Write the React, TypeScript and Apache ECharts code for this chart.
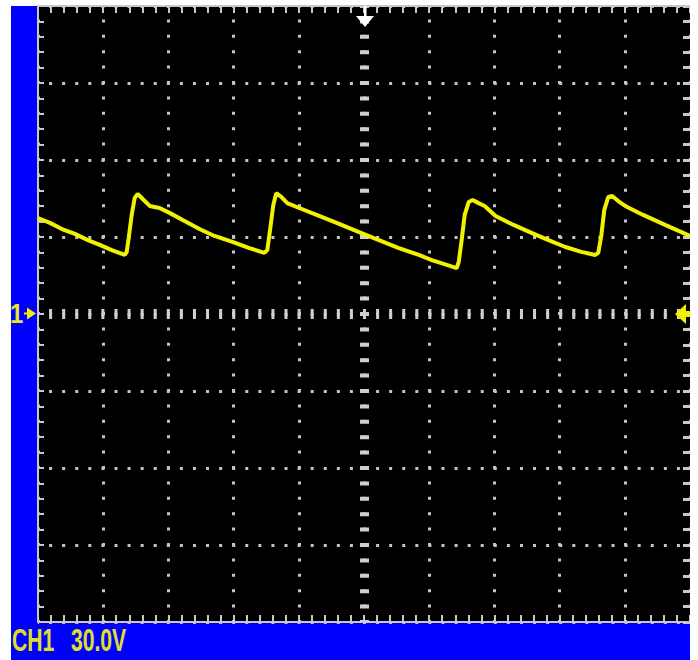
import React, { useEffect, useRef } from 'react';
import * as echarts from 'echarts';

// Horizontal position in screen divisions (0..10), CH1 voltage in volts (30 V/div)
const traceTime = [
  0.0, 0.183, 0.367, 0.566, 0.765, 0.948, 1.131, 1.33,
  1.361, 1.391, 1.437, 1.483, 1.529,
  1.606, 1.713, 1.865, 2.018, 2.248, 2.477, 2.706, 2.982, 3.242, 3.471,
  3.517, 3.563, 3.609, 3.654,
  3.731, 3.823, 4.006, 4.312, 4.618, 4.924, 5.229, 5.535, 5.841, 6.04, 6.223, 6.422,
  6.453, 6.498, 6.544, 6.606, 6.667,
  6.758, 6.85, 7.018, 7.294, 7.569, 7.829, 8.089, 8.333, 8.547,
  8.593, 8.639, 8.685, 8.746, 8.807,
  8.899, 9.006, 9.281, 9.618, 10.0,
];
const traceVolt = [
  37.4, 35.5, 33.1, 31.2, 28.8, 26.9, 24.9, 23.0,
  24.2, 29.6, 38.6, 45.2, 46.8,
  44.8, 42.1, 41.3, 39.4, 36.2, 33.1, 30.4, 28.1, 25.7, 23.8,
  24.9, 33.5, 42.5, 47.1,
  45.6, 43.2, 41.3, 38.2, 35.1, 31.9, 28.8, 25.7, 23.0, 21.0, 19.5, 17.9,
  20.3, 28.8, 38.6, 43.6, 44.4,
  43.2, 42.1, 38.2, 34.7, 31.6, 28.8, 26.1, 24.2, 23.0,
  23.8, 30.4, 40.5, 45.6, 46.0,
  44.0, 42.1, 38.6, 34.7, 30.4,
];

const timeRange = [0, 10];
const timeStep = 1;
const voltRange = [-120, 120];
const voltStep = 30;
const triggerTime = 5;
const groundVolt = 0;

const channelLabel = 'CH1';
const scaleLabel = '30.0V';
const channelMarker = '1';

export default function App() {
  const ref = useRef<HTMLDivElement>(null);

  useEffect(() => {
    if (!ref.current) return;
    const chart = echarts.init(ref.current, null, { renderer: 'svg' });
    const data = traceTime.map((t, i) => [t, traceVolt[i]]);
    const edge = { color: '#c8c8c8', width: 2 };

    const xBase = {
      type: 'value',
      min: timeRange[0],
      max: timeRange[1],
      interval: timeStep,
      axisLine: { show: true, onZero: false, lineStyle: edge },
      axisTick: { show: true, inside: true, length: 7, lineStyle: edge },
      minorTick: { show: true, splitNumber: 5, length: 7, lineStyle: edge },
      axisLabel: { show: false },
    };
    const yBase = {
      type: 'value',
      min: voltRange[0],
      max: voltRange[1],
      interval: voltStep,
      axisLine: { show: true, onZero: false, lineStyle: edge },
      axisTick: { show: true, inside: true, length: 6, lineStyle: edge },
      minorTick: { show: true, splitNumber: 5, length: 6, lineStyle: edge },
      axisLabel: { show: false },
    };

    const option = {
      animation: false,
      grid: { left: 38, top: 6, width: 654, height: 616, show: false },
      xAxis: [
        {
          ...xBase,
          position: 'bottom',
          splitLine: {
            show: true,
            lineStyle: { color: '#c4c4c4', width: 3, type: [3, 12.4], dashOffset: 1.5 },
          },
        },
        { ...xBase, position: 'top', splitLine: { show: false } },
      ],
      yAxis: [
        {
          ...yBase,
          position: 'left',
          splitLine: {
            show: true,
            lineStyle: { color: '#c4c4c4', width: 3, type: [3, 10.08], dashOffset: 1.5 },
          },
        },
        {
          ...yBase,
          position: 'right',
          axisLine: { show: false, onZero: false },
          axisTick: { show: true, inside: true, length: 7, lineStyle: { color: '#c8c8c8', width: 3 } },
          minorTick: { show: true, splitNumber: 5, length: 7, lineStyle: { color: '#c8c8c8', width: 3 } },
          splitLine: { show: false },
        },
      ],
      series: [
        {
          type: 'line',
          data: [],
          z: 1,
          silent: true,
          markLine: {
            silent: true,
            z: 1,
            symbol: 'none',
            label: { show: false },
            emphasis: { disabled: true },
            data: [
              {
                xAxis: triggerTime,
                lineStyle: { color: '#cfcfcf', width: 9, type: [4, 11.4], dashOffset: 2 },
              },
              {
                yAxis: groundVolt,
                lineStyle: { color: '#cfcfcf', width: 10, type: [3, 10.08], dashOffset: 1.5 },
              },
            ],
          },
        },
        {
          type: 'line',
          data,
          z: 10,
          silent: true,
          symbol: 'none',
          showSymbol: false,
          lineStyle: { color: '#f2f200', width: 4 },
        },
      ],
      graphic: [
        { type: 'rect', z: -10, silent: true, shape: { x: 11, y: 6, width: 679, height: 654 }, style: { fill: '#0000ff' } },
        { type: 'rect', z: -9, silent: true, shape: { x: 38, y: 6, width: 654, height: 616 }, style: { fill: '#000000' } },
        {
          type: 'text', z: 50, x: 12, y: 640, scaleX: 0.66,
          style: { text: channelLabel, fill: '#e0e020', fontSize: 32, fontWeight: 'bold', fontFamily: 'Liberation Sans', verticalAlign: 'middle' },
        },
        {
          type: 'text', z: 50, x: 71, y: 640, scaleX: 0.66,
          style: { text: scaleLabel, fill: '#e0e020', fontSize: 32, fontWeight: 'bold', fontFamily: 'Liberation Sans', verticalAlign: 'middle' },
        },
        {
          type: 'text', z: 50, x: 10, y: 313, scaleX: 0.85,
          style: { text: channelMarker, fill: '#e8e820', fontSize: 28, fontWeight: 'bold', fontFamily: 'Liberation Sans', verticalAlign: 'middle' },
        },
        { type: 'polygon', z: 50, shape: { points: [[27, 307.5], [36, 313.5], [27, 319.5]] }, style: { fill: '#f0f000' } },
        { type: 'rect', z: 50, shape: { x: 24, y: 312.5, width: 4, height: 2 }, style: { fill: '#f0f000' } },
        {
          type: 'polygon', z: 50,
          shape: { points: [[675, 314], [686, 304], [686, 311], [690, 311], [690, 317], [686, 317], [686, 324]] },
          style: { fill: '#f0f000' },
        },
        { type: 'rect', z: 50, shape: { x: 364, y: 6, width: 2.5, height: 11 }, style: { fill: '#ffffff' } },
        { type: 'polygon', z: 50, shape: { points: [[356, 16], [374, 16], [365, 27]] }, style: { fill: '#ffffff' } },
      ],
    };

    chart.setOption(option as any);
    return () => chart.dispose();
  }, []);

  return (
    <div style={{ position: 'absolute', left: 0, top: 0, width: 698, height: 660, background: '#ffffff' }}>
      <div ref={ref} style={{ width: 690, height: 660 }} />
    </div>
  );
}
